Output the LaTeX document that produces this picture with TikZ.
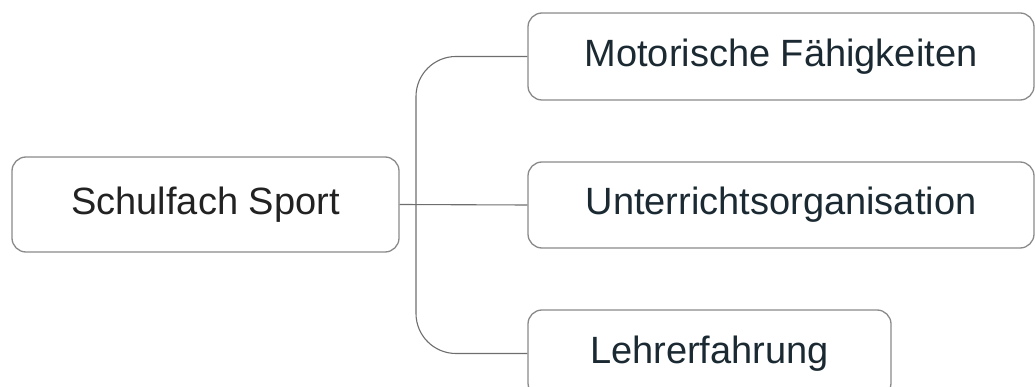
\documentclass[tikz,border=0pt]{standalone}
\usepackage{fontspec}
\setmainfont{Liberation Sans}
\definecolor{boxline}{HTML}{8A8A8A}
\definecolor{rootink}{HTML}{222222}
\definecolor{leafink}{HTML}{1B2A32}
\definecolor{linkline}{HTML}{6E6E6E}
\begin{document}
\begin{tikzpicture}[x=1pt,y=-1pt,
  topic/.style={draw=boxline, line width=1.3pt, rounded corners=14pt, fill=white,
    inner sep=0pt, font=\fontsize{38}{45}\selectfont},
  link/.style={draw=linkline, line width=1.1pt}]
\useasboundingbox (0,0) rectangle (1035,387);
% central topic
\node[topic, text=rootink, minimum width=387pt, minimum height=95pt] (root) at (205.5,204.5) {Schulfach Sport};
% branches
\node[topic, text=leafink, minimum width=506pt, minimum height=87pt] (motor) at (781,56.5) {Motorische Fähigkeiten};
\node[topic, text=leafink, minimum width=506pt, minimum height=86pt] (orga) at (781,205) {Unterrichtsorganisation};
\node[topic, text=leafink, minimum width=363pt, minimum height=87pt] (lehrer) at (709.5,353.5) {Lehrerfahrung};
% connectors
\coordinate (trunk) at (416,0);
\draw[link] (root.east) -- (orga.west);
\draw[link, rounded corners=40pt] (motor.west) -| (trunk |- orga.west) |- (lehrer.west);
\end{tikzpicture}
\end{document}
